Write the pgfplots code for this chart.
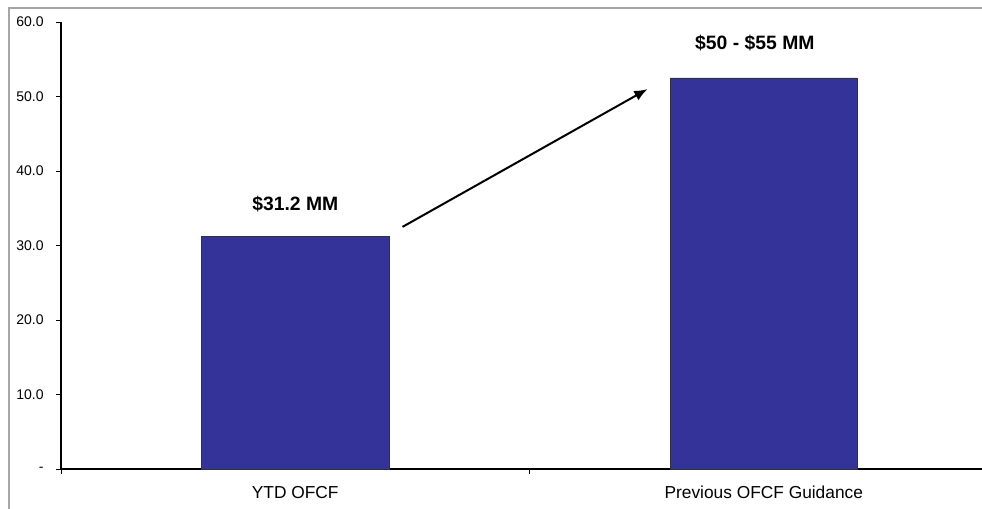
\documentclass[border=0pt]{standalone}
\usepackage{pgfplots}
\pgfplotsset{compat=1.18}
\usetikzlibrary{arrows.meta}
\usepackage{fontspec}
\setmainfont{Liberation Sans}
\definecolor{barblue}{HTML}{333399}
\begin{document}
\begin{tikzpicture}
\useasboundingbox (0pt,0pt) rectangle (736.5pt,381.75pt);
\draw[gray!70, line width=1.5pt] (6.75pt,0pt) -- (6.75pt,375.75pt) -- (736.5pt,375.75pt);
\begin{axis}[
  at={(45.75pt,30pt)}, anchor=south west,
  scale only axis,
  width=690.75pt, height=335.25pt,
  xmin=-0.5, xmax=1.4658, ymin=0, ymax=60,
  axis x line*=bottom, axis y line*=left,
  axis line style={black, line width=0.8pt},
  ytick={0,10,20,30,40,50,60},
  yticklabels={-,10.0,20.0,30.0,40.0,50.0,60.0},
  yticklabel style={font=\fontsize{10.5}{11}\selectfont, xshift=-6pt},
  y tick style={black, line width=0.6pt},
  tick align=outside, major tick length=3.5pt,
  xtick={0,1},
  xticklabels={YTD OFCF, Previous OFCF Guidance},
  x tick style={draw=none},
  xticklabel style={font=\fontsize{13}{14}\selectfont, yshift=-6pt},
  extra x ticks={-0.5,0.5},
  extra x tick labels={},
  extra x tick style={x tick style={draw=black, line width=0.6pt}},
  clip=false,
]
\addplot[ybar, bar width=0.4, fill=barblue, draw=black!80, line width=0.4pt]
  coordinates {(0,31.2) (1,52.5)};
\node[font=\bfseries\fontsize{14.5}{15}\selectfont] at (axis cs:0,35.6) {\$31.2 MM};
\node[font=\bfseries\fontsize{14.5}{15}\selectfont] at (axis cs:0.981,57.2) {\$50 - \$55 MM};
\draw[-{Latex[length=10pt,width=8pt]}, line width=1.5pt] (axis cs:0.229,32.5) -- (axis cs:0.752,51.0);
\end{axis}
\end{tikzpicture}
\end{document}
